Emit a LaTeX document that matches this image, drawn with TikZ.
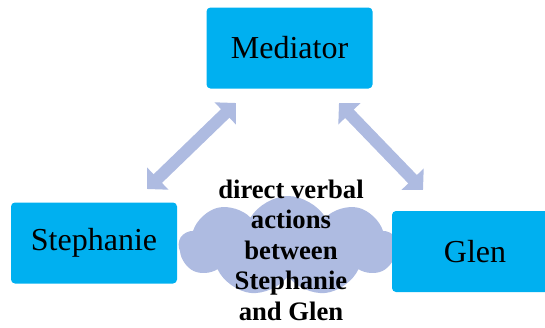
\documentclass[tikz,border=0pt]{standalone}
\usepackage{fontspec}
\setmainfont{Liberation Serif}
\usetikzlibrary{arrows.meta,shapes.symbols}
\definecolor{boxblue}{RGB}{0,176,240}
\definecolor{lav}{RGB}{174,187,225}
\tikzset{
  party/.style={fill=boxblue, rounded corners=4pt, minimum width=166pt,
    minimum height=81pt, inner sep=0pt, font=\fontsize{32}{38}\selectfont},
  talk/.style={draw=none, fill=lav, cloud, cloud puffs=9, cloud puff arc=120,
    aspect=2.2, minimum width=218pt, minimum height=100pt, inner sep=0pt},
  link/.style={lav, line width=12pt,
    {Triangle[length=15pt,width=30pt]}-{Triangle[length=15pt,width=30pt]}},
  caption/.style={align=center, font=\fontsize{26.67}{30.5}\selectfont\bfseries}
}
\begin{document}
\begin{tikzpicture}[x=1pt,y=-1pt]
\useasboundingbox (0,0) rectangle (545,327);
\clip (0,0) rectangle (545,327);
\node[talk] (cloud) at (288,246) {};
\node[party] (med) at (289.5,48) {Mediator};
\node[party] (steph) at (94,243) {Stephanie};
\node[party] (glen) at (475,251.5) {Glen};
\node[caption] (cap) at (291,250) {direct verbal\\actions\\between\\Stephanie\\and Glen};
\coordinate (la) at (147,189);
\coordinate (lb) at (236,103);
\coordinate (ra) at (339,103);
\coordinate (rb) at (423,190);
\draw[link] (la) -- (lb);
\draw[link] (ra) -- (rb);
\end{tikzpicture}
\end{document}
